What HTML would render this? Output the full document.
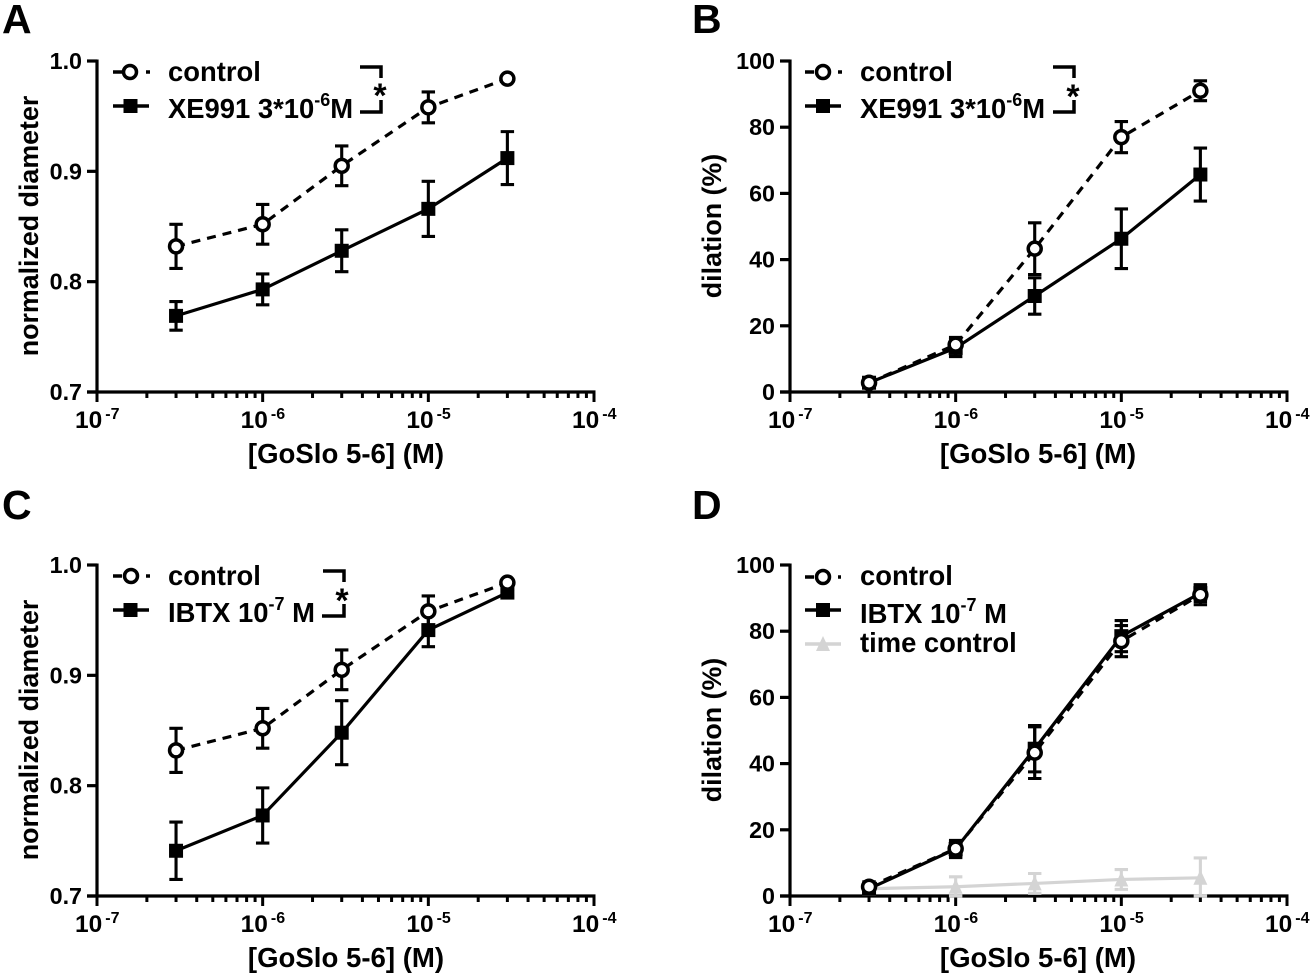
<!DOCTYPE html>
<html lang="en">
<head>
<meta charset="utf-8">
<title>GoSlo 5-6 dose response</title>
<style>
html,body{margin:0;padding:0;background:#fff;width:1310px;height:977px;overflow:hidden}
svg{display:block}
text{font-family:"Liberation Sans",Arial,sans-serif;font-weight:bold;fill:#000}
.lg{font-size:27.4px}
.ttl{font-size:27.6px}
.ytl{font-size:26.8px}
.let{font-size:41px}
</style>
</head>
<body>
<svg id="fig" width="1310" height="977" viewBox="0 0 1310 977" xmlns="http://www.w3.org/2000/svg">
  <rect width="1310" height="977" fill="#fff"/>

  <text class="let" x="2" y="33">A</text>
  <text class="let" x="692" y="33">B</text>
  <text class="let" x="2" y="519">C</text>
  <text class="let" x="692" y="519">D</text>

  <text class="ytl" text-anchor="middle" transform="translate(38 226) rotate(-90)">normalized diameter</text>
  <text class="ytl" text-anchor="middle" transform="translate(721 226) rotate(-90)">dilation (%)</text>
  <text class="ytl" text-anchor="middle" transform="translate(38 730) rotate(-90)">normalized diameter</text>
  <text class="ytl" text-anchor="middle" transform="translate(721 730) rotate(-90)">dilation (%)</text>

  <text class="ttl" text-anchor="middle" x="346" y="463">[GoSlo 5-6] (M)</text>
  <text class="ttl" text-anchor="middle" x="1038" y="463">[GoSlo 5-6] (M)</text>
  <text class="ttl" text-anchor="middle" x="346" y="967">[GoSlo 5-6] (M)</text>
  <text class="ttl" text-anchor="middle" x="1038" y="967">[GoSlo 5-6] (M)</text>

  <g id="charts"></g>

  <!-- Panel A legend -->
  <g>
    <path d="M113 72H122M146 72H150" stroke="#000" stroke-width="3.5" fill="none"/>
    <circle cx="130" cy="72" r="6.5" fill="#fff" stroke="#000" stroke-width="3.5"/>
    <text class="lg" x="168" y="81">control</text>
    <path d="M113 106H149" stroke="#000" stroke-width="3.5"/>
    <rect x="123.5" y="99" width="14" height="14"/>
    <text class="lg" x="168" y="118">XE991 3*10<tspan font-size="18" dy="-12">-6</tspan><tspan dy="12">M</tspan></text>
    <path d="M360 67H381V78M381 100V112H360" stroke="#000" stroke-width="3.5" fill="none"/>
    <text x="380" y="107" font-size="34" text-anchor="middle">*</text>
  </g>

  <!-- Panel B legend -->
  <g>
    <path d="M805 72H814M838 72H842" stroke="#000" stroke-width="3.5" fill="none"/>
    <circle cx="823" cy="72" r="6.5" fill="#fff" stroke="#000" stroke-width="3.5"/>
    <text class="lg" x="860" y="81">control</text>
    <path d="M805 106H841" stroke="#000" stroke-width="3.5"/>
    <rect x="816" y="99" width="14" height="14"/>
    <text class="lg" x="860" y="118">XE991 3*10<tspan font-size="18" dy="-12">-6</tspan><tspan dy="12">M</tspan></text>
    <path d="M1053 67H1074V78M1074 100V112H1053" stroke="#000" stroke-width="3.5" fill="none"/>
    <text x="1073" y="108" font-size="34" text-anchor="middle">*</text>
  </g>

  <!-- Panel C legend -->
  <g>
    <path d="M113 576H122M146 576H150" stroke="#000" stroke-width="3.5" fill="none"/>
    <circle cx="131" cy="576" r="6.5" fill="#fff" stroke="#000" stroke-width="3.5"/>
    <text class="lg" x="168" y="585">control</text>
    <path d="M113 610H149" stroke="#000" stroke-width="3.5"/>
    <rect x="123.5" y="603" width="14" height="14"/>
    <text class="lg" x="168" y="622">IBTX 10<tspan font-size="18" dy="-12">-7</tspan><tspan dy="12"> M</tspan></text>
    <path d="M323 571H344V582M344 604V616H322" stroke="#000" stroke-width="3.5" fill="none"/>
    <text x="342" y="612" font-size="34" text-anchor="middle">*</text>
  </g>

  <!-- Panel D legend -->
  <g>
    <path d="M805 577H814M838 577H841" stroke="#000" stroke-width="3.5" fill="none"/>
    <circle cx="823" cy="577" r="6.5" fill="#fff" stroke="#000" stroke-width="3.5"/>
    <text class="lg" x="860" y="585">control</text>
    <path d="M805 610H841" stroke="#000" stroke-width="3.5"/>
    <rect x="816" y="603" width="14" height="14"/>
    <text class="lg" x="860" y="623">IBTX 10<tspan font-size="18" dy="-12">-7</tspan><tspan dy="12"> M</tspan></text>
    <path d="M805 644H841" stroke="#d4d4d4" stroke-width="3.5"/>
    <path d="M823 636L830 651H816Z" fill="#d4d4d4"/>
    <text class="lg" x="860" y="652">time control</text>
  </g>
</svg>

<script>
// Shared x values (log molar concentration, in M)
var concentrations = [3e-7, 1e-6, 3e-6, 1e-5, 3e-5];
var xDecadeExponents = [-7, -6, -5, -4];

// Y-axis tick values and labels
var diameterTicks = [0.7, 0.8, 0.9, 1.0];
var diameterTickLabels = ["0.7", "0.8", "0.9", "1.0"];
var dilationTicks = [0, 20, 40, 60, 80, 100];
var dilationTickLabels = ["0", "20", "40", "60", "80", "100"];

// Panel A
var aControl = [0.832, 0.852, 0.905, 0.958, 0.984];
var aControlErr = [0.020, 0.018, 0.018, 0.014, 0.002];
var aXe991 = [0.769, 0.793, 0.828, 0.866, 0.912];
var aXe991Err = [0.013, 0.014, 0.019, 0.025, 0.024];

// Panel B
var bControl = [2.8, 14.3, 43.3, 77, 91];
var bControlErr = [1.5, 2.2, 7.8, 4.7, 3];
var bXe991 = [2.8, 13.3, 29, 46.3, 65.7];
var bXe991Err = [1.2, 2.6, 5.5, 9, 8];

// Panel C
var cControl = [0.832, 0.852, 0.905, 0.958, 0.984];
var cControlErr = [0.020, 0.018, 0.018, 0.014, 0.002];
var cIbtx = [0.741, 0.773, 0.848, 0.941, 0.975];
var cIbtxErr = [0.026, 0.025, 0.029, 0.015, 0.003];

// Panel D
var dControl = [2.8, 14.3, 43.3, 77, 91];
var dControlErr = [1.5, 2.2, 7.8, 4.7, 3];
var dIbtx = [2.2, 14.2, 44.5, 78.5, 91.5];
var dIbtxErr = [1.5, 2.6, 7, 4.7, 2.5];
var dTime = [2.2, 2.8, 3.8, 5, 5.5];
var dTimeErr = [0.8, 3, 3, 3, 6];

var NS = "http://www.w3.org/2000/svg";
var root = document.getElementById("charts");

function mk(parent, tag, attrs) {
  var el = document.createElementNS(NS, tag);
  for (var k in attrs) el.setAttribute(k, attrs[k]);
  parent.appendChild(el);
  return el;
}

function drawAxes(g, id, xOf, yOf, yTicks, yLabels, left, top, bottom) {
  var yAxis = mk(g, "line", {x1: left, x2: left, y1: top - 1.5, y2: bottom + 1.5, stroke: "#000", "stroke-width": 3.2});
  
  
  var xAxis = mk(g, "line", {x1: left - 10, x2: xOf(1e-4) + 1.5, y1: bottom, y2: bottom, stroke: "#000", "stroke-width": 3.2});
  
  

  yTicks.forEach(function (v, i) {
    var y = yOf(v);
    var t = mk(g, "line", {x1: left - 10, x2: left, y1: y, y2: y, stroke: "#000", "stroke-width": 3.2});
    
    
    var lab = mk(g, "text", {x: left - 15, y: y + 8, "text-anchor": "end", "font-size": 23.3});
    
    
    lab.textContent = yLabels[i];
  });

  xDecadeExponents.forEach(function (e, i) {
    var base = Math.pow(10, e);
    var x = xOf(base);
    var t = mk(g, "line", {x1: x, x2: x, y1: bottom, y2: bottom + 10, stroke: "#000", "stroke-width": 3});
    
    
    var lab = mk(g, "text", {x: x - 22, y: bottom + 36, "font-size": 24.5});
    
    
    lab.textContent = "10";
    var sup = mk(lab, "tspan", {dy: -9, dx: 3, "font-size": 16});
    sup.textContent = String(e);
    if (i < xDecadeExponents.length - 1) {
      for (var m = 2; m < 10; m++) {
        var mx = xOf(m * base);
        var mt = mk(g, "line", {x1: mx, x2: mx, y1: bottom, y2: bottom + 6, stroke: "#000", "stroke-width": 3});
        
        
      }
    }
  });
}

function drawSeries(g, name, values, errors, xOf, yOf, kind, color, bottom) {
  var s = mk(g, "g", {});
  
  

  var pts = values.map(function (v, i) { return xOf(concentrations[i]) + "," + yOf(v); }).join(" ");
  var lineAttrs = {points: pts, fill: "none", stroke: color, "stroke-width": 3.2};
  if (kind === "circle") lineAttrs["stroke-dasharray"] = "9 7";
  var ln = mk(s, "polyline", lineAttrs);
  
  

  values.forEach(function (v, i) {
    var x = xOf(concentrations[i]);
    var hi = yOf(v + errors[i]);
    var lo = Math.min(yOf(v - errors[i]), bottom);
    var d = "M" + x + " " + hi + "V" + lo + "M" + (x - 6.7) + " " + hi + "H" + (x + 6.7) + "M" + (x - 6.7) + " " + lo + "H" + (x + 6.7);
    var eb = mk(s, "path", {d: d, stroke: color, "stroke-width": 3.1, fill: "none"});
    
    
  });

  values.forEach(function (v, i) {
    var x = xOf(concentrations[i]);
    var y = yOf(v);
    var mark;
    if (kind === "circle") {
      mark = mk(s, "circle", {cx: x, cy: y, r: 6.5, fill: "#fff", stroke: color, "stroke-width": 3.5});
    } else if (kind === "square") {
      mark = mk(s, "rect", {x: x - 7, y: y - 7, width: 14, height: 14, fill: color});
    } else {
      mark = mk(s, "path", {d: "M" + x + " " + (y - 8) + "L" + (x + 7) + " " + (y + 7) + "H" + (x - 7) + "Z", fill: color});
    }
    
    
  });
}

function drawPanel(id, left, top, yTicks, yLabels, seriesList) {
  var bottom = top + 331;
  var width = 497;
  var yMin = yTicks[0];
  var yMax = yTicks[yTicks.length - 1];
  function xOf(c) { return left + (Math.log10(c) + 7) / 3 * width; }
  function yOf(v) { return bottom - (v - yMin) / (yMax - yMin) * 331; }

  var g = mk(root, "g", {});
  
  

  drawAxes(g, id, xOf, yOf, yTicks, yLabels, left, top, bottom);
  seriesList.forEach(function (s) {
    drawSeries(g, s.name + "-" + id, s.values, s.errors, xOf, yOf, s.kind, s.color, bottom);
  });
}

drawPanel("a", 97, 61, diameterTicks, diameterTickLabels, [
  {name: "control", values: aControl, errors: aControlErr, kind: "circle", color: "#000"},
  {name: "xe991", values: aXe991, errors: aXe991Err, kind: "square", color: "#000"}
]);
drawPanel("b", 790, 61, dilationTicks, dilationTickLabels, [
  {name: "xe991", values: bXe991, errors: bXe991Err, kind: "square", color: "#000"},
  {name: "control", values: bControl, errors: bControlErr, kind: "circle", color: "#000"}
]);
drawPanel("c", 97, 565, diameterTicks, diameterTickLabels, [
  {name: "ibtx", values: cIbtx, errors: cIbtxErr, kind: "square", color: "#000"},
  {name: "control", values: cControl, errors: cControlErr, kind: "circle", color: "#000"}
]);
drawPanel("d", 790, 565, dilationTicks, dilationTickLabels, [
  {name: "time-control", values: dTime, errors: dTimeErr, kind: "triangle", color: "#d4d4d4"},
  {name: "ibtx", values: dIbtx, errors: dIbtxErr, kind: "square", color: "#000"},
  {name: "control", values: dControl, errors: dControlErr, kind: "circle", color: "#000"}
]);
</script>
</body>
</html>
